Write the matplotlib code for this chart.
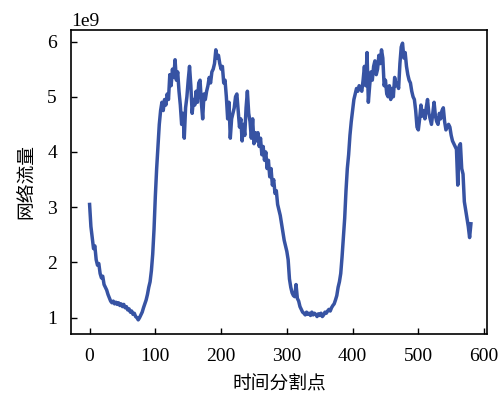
import matplotlib
matplotlib.use("Agg")
import matplotlib.pyplot as plt
import numpy as np

# time split points (step 2) and network traffic values (x1e9)
x_points = list(range(0, 582, 2))
traffic_e9 = [
    3.05, 2.65, 2.45, 2.25, 2.30, 2.05, 1.95, 1.98, 1.80, 1.72,
    1.75, 1.60, 1.55, 1.50, 1.42, 1.36, 1.30, 1.27, 1.30, 1.25,
    1.28, 1.24, 1.27, 1.22, 1.25, 1.20, 1.24, 1.18, 1.20, 1.14,
    1.16, 1.10, 1.12, 1.06, 1.08, 1.02, 1.00, 0.96, 1.00, 1.05,
    1.10, 1.18, 1.25, 1.32, 1.42, 1.55, 1.65, 1.85, 2.15, 2.60,
    3.20, 3.70, 4.10, 4.50, 4.75, 4.90, 4.75, 4.95, 4.85, 5.05,
    4.95, 5.40, 5.20, 5.50, 5.35, 5.67, 5.30, 5.45, 5.10, 4.85,
    4.50, 4.70, 4.25, 4.80, 5.00, 5.30, 5.55, 5.20, 4.70, 4.95,
    4.85, 5.10, 4.90, 5.25, 5.30, 4.90, 4.60, 5.05, 4.95, 5.10,
    5.20, 5.35, 5.25, 5.45, 5.50, 5.60, 5.85, 5.70, 5.75, 5.60,
    5.50, 5.55, 5.25, 5.30, 5.00, 4.60, 4.90, 4.25, 4.60, 4.70,
    4.80, 5.00, 5.05, 4.75, 4.45, 4.60, 4.20, 4.50, 4.30, 4.80,
    5.10, 4.70, 4.55, 4.25, 4.60, 4.15, 4.35, 4.20, 4.35, 4.10,
    4.25, 3.95, 4.10, 3.85, 4.00, 3.70, 3.85, 3.55, 3.70, 3.40,
    3.50, 3.25, 3.30, 3.05, 2.95, 2.85, 2.70, 2.55, 2.40, 2.30,
    2.20, 2.05, 1.70, 1.55, 1.45, 1.40, 1.38, 1.60, 1.35, 1.30,
    1.20, 1.15, 1.10, 1.08, 1.05, 1.10, 1.06, 1.08, 1.04, 1.10,
    1.05, 1.08, 1.06, 1.02, 1.07, 1.04, 1.08, 1.02, 1.05, 1.10,
    1.08, 1.12, 1.15, 1.12, 1.18, 1.22, 1.25, 1.32, 1.40, 1.55,
    1.65, 1.80, 2.10, 2.45, 2.80, 3.30, 3.70, 3.95, 4.30, 4.55,
    4.75, 4.95, 5.05, 5.15, 5.10, 5.20, 5.15, 5.10, 5.30, 5.55,
    5.20, 5.80, 4.90, 5.20, 5.45, 5.30, 5.55, 5.65, 5.40, 5.50,
    5.75, 5.60, 5.85, 5.70, 5.20, 5.30, 5.05, 5.00, 5.20, 4.95,
    5.15, 5.00, 5.35, 5.20, 5.25, 5.15, 5.60, 5.90, 5.97, 5.70,
    5.80, 5.55, 5.40, 5.30, 5.25, 5.10, 5.00, 4.95, 4.75, 4.45,
    4.40, 4.60, 4.85, 4.65, 4.75, 4.60, 4.80, 4.95, 4.70, 4.60,
    4.50, 4.70, 4.90, 4.65, 4.55, 4.50, 4.70, 4.60, 4.75, 4.80,
    4.55, 4.40, 4.45, 4.50, 4.45, 4.30, 4.20, 4.15, 4.10, 4.05,
    3.40, 4.10, 4.15, 3.70, 3.60, 3.10, 2.95, 2.80, 2.65, 2.45,
    2.70,
]
x_ticks = [0, 100, 200, 300, 400, 500, 600]
y_ticks_e9 = [1, 2, 3, 4, 5, 6]
x_label = "时间分割点"
y_label = "网络流量"

traffic = np.array(traffic_e9) * 1e9

plt.rcParams['font.family'] = ['Liberation Serif', 'Noto Sans CJK SC']
fig = plt.figure(figsize=(4.99, 3.99), dpi=100)
ax = fig.add_axes([0.142, 0.163, 0.834, 0.762])
ax.plot(x_points, traffic, color='#3753a3', linewidth=2.5)
ax.set_xlim(-28.5, 604.5)
ax.set_ylim(0.705e9, 6.21e9)
ax.set_xticks(x_ticks)
ax.set_yticks([v * 1e9 for v in y_ticks_e9])
ax.tick_params(direction='in', length=4, width=1, labelsize=14, pad=10)
for s in ax.spines.values():
    s.set_linewidth(1.2)
ax.yaxis.get_offset_text().set_fontsize(14)
ax.set_xlabel(x_label, fontsize=13.5, family=['Noto Sans CJK SC'], labelpad=6)
ax.set_ylabel(y_label, fontsize=13.5, family=['Noto Sans CJK SC'], labelpad=8)
fig.savefig("out.png", dpi=100)
